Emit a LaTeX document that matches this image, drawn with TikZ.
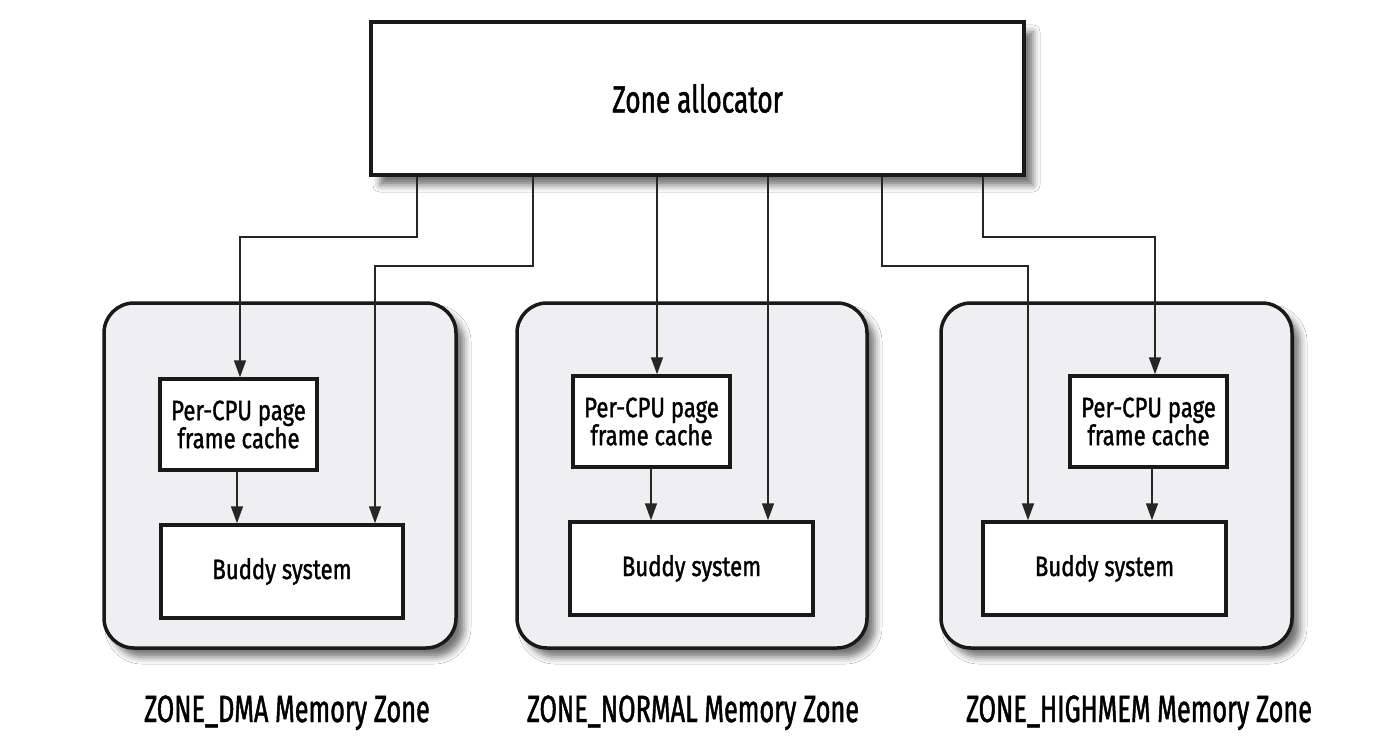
\documentclass[tikz,border=0pt]{standalone}
\usepackage{fontspec}
\setmainfont{Fira Sans}[FakeStretch=0.79,FakeBold=1.2]
\newfontfamily\bigfont{Fira Sans}[FakeStretch=0.69,FakeBold=1.2]
\newfontfamily\labelfont{Fira Sans}[FakeStretch=0.665,FakeBold=1.2]
\usetikzlibrary{arrows.meta,shadows.blur}
\definecolor{zonefill}{RGB}{239,238,240}
\begin{document}
\begin{tikzpicture}[x=1pt,y=-1pt,
  box/.style={draw=black!90,line width=3.5pt,fill=white,inner sep=0pt,align=center,font=\fontsize{28}{28}\selectfont},
  allocbox/.style={box,blur shadow={shadow xshift=9pt,shadow yshift=-10pt,shadow blur radius=7pt,shadow opacity=55},font=\bigfont\fontsize{38}{38}\selectfont},
  zonebox/.style={draw=black!90,line width=3.5pt,fill=zonefill,rounded corners=30pt,inner sep=0pt,
     blur shadow={shadow xshift=8pt,shadow yshift=-9pt,shadow blur radius=7pt,shadow opacity=55}},
  arr/.style={draw=black!85,line width=1.6pt,-{Triangle[length=17pt,width=12pt]}},
  zlabel/.style={anchor=base,inner sep=0pt,font=\labelfont\fontsize{38}{38}\selectfont}
]
\useasboundingbox[fill=white] (0,0) rectangle (1384,754);

\node[allocbox,minimum width=653pt,minimum height=153pt] (alloc) at (697.5,98.5) {Zone allocator};

\node[zonebox,minimum width=352pt,minimum height=345pt] (zL) at (280,475.5) {};
\node[zonebox,minimum width=350pt,minimum height=345pt] (zM) at (692,475.5) {};
\node[zonebox,minimum width=351pt,minimum height=345pt] (zR) at (1116.5,475.5) {};

\node[box,minimum width=157pt,minimum height=91pt] (pcL) at (238.5,424.5) {Per-CPU page\\frame cache};
\node[box,minimum width=242pt,minimum height=93pt] (bsL) at (282,571.5) {Buddy system};
\node[box,minimum width=157pt,minimum height=91pt] (pcM) at (651.5,421.5) {Per-CPU page\\frame cache};
\node[box,minimum width=243pt,minimum height=93pt] (bsM) at (691.5,568.5) {Buddy system};
\node[box,minimum width=157pt,minimum height=91pt] (pcR) at (1148.5,421.5) {Per-CPU page\\frame cache};
\node[box,minimum width=243pt,minimum height=93pt] (bsR) at (1104.5,568.5) {Buddy system};

% left zone
\draw[arr] (alloc.south -| 417,0) |- (240,237) -- (pcL.north -| 240,0);
\draw[arr] (alloc.south -| 533,0) |- (375,266) -- (bsL.north -| 375,0);
\draw[arr] (pcL.south -| 237,0) -- (bsL.north -| 237,0);
% middle zone
\draw[arr] (alloc.south -| 657,0) -- (pcM.north -| 657,0);
\draw[arr] (alloc.south -| 768,0) -- (bsM.north -| 768,0);
\draw[arr] (pcM.south -| 651,0) -- (bsM.north -| 651,0);
% right zone
\draw[arr] (alloc.south -| 882,0) |- (1028,266) -- (bsR.north -| 1028,0);
\draw[arr] (alloc.south -| 983,0) |- (1155,237) -- (pcR.north -| 1155,0);
\draw[arr] (pcR.south -| 1152,0) -- (bsR.north -| 1152,0);

\node[zlabel] (lL) at (287,722) {ZONE\_DMA Memory Zone};
\node[zlabel] (lM) at (693,722) {ZONE\_NORMAL Memory Zone};
\node[zlabel] (lR) at (1139,722) {ZONE\_HIGHMEM Memory Zone};
\end{tikzpicture}
\end{document}
